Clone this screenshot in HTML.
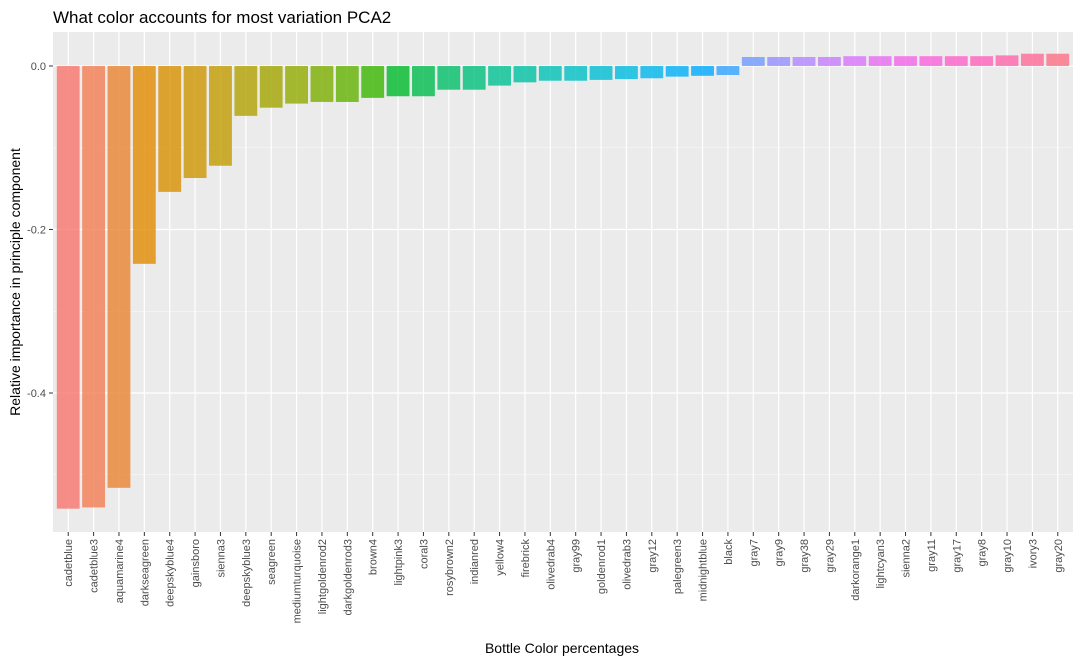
<!DOCTYPE html>
<html><head><meta charset="utf-8"><style>
body{margin:0;background:#fff;font-family:"Liberation Sans",Arial,sans-serif;}
svg text{font-family:"Liberation Sans",Arial,sans-serif;}
</style></head><body>
<svg id="chart" width="1081" height="663" xmlns="http://www.w3.org/2000/svg">
<text x="53" y="23" font-size="17" fill="#000">What color accounts for most variation PCA2</text>
<text x="562" y="653" font-size="14" fill="#000" text-anchor="middle">Bottle Color percentages</text>
<text transform="translate(20,282) rotate(-90)" font-size="14" fill="#000" text-anchor="middle">Relative importance in principle component</text>
<g id="plot"></g>
</svg>
<script>
const categories=["cadetblue","cadetblue3","aquamarine4","darkseagreen","deepskyblue4","gainsboro","sienna3","deepskyblue3","seagreen","mediumturquoise","lightgoldenrod2","darkgoldenrod3","brown4","lightpink3","coral3","rosybrown2","indianred","yellow4","firebrick","olivedrab4","gray99","goldenrod1","olivedrab3","gray12","palegreen3","midnightblue","black","gray7","gray9","gray38","gray29","darkorange1","lightcyan3","sienna2","gray11","gray17","gray8","gray10","ivory3","gray20"];
const values=[-0.5415,-0.540,-0.516,-0.242,-0.154,-0.137,-0.122,-0.061,-0.051,-0.046,-0.044,-0.044,-0.039,-0.037,-0.037,-0.029,-0.029,-0.024,-0.020,-0.018,-0.018,-0.017,-0.016,-0.015,-0.013,-0.012,-0.011,0.011,0.011,0.011,0.011,0.012,0.012,0.012,0.012,0.012,0.012,0.013,0.015,0.015];
const yTicks=[0,-0.2,-0.4];
const yTickLabels=["0.0","-0.2","-0.4"];
const yMinor=[-0.1,-0.3,-0.5];

const NS="http://www.w3.org/2000/svg";
const P={l:53,r:1073,t:32,b:532};
const n=categories.length;
const step=(P.r-P.l)/(n-1+1.2);
const x=i=>P.l+step*(0.6+i);
const y=v=>66-v*817.5;
function hcl(h,c,l){
  const hr=h*Math.PI/180,U=c*Math.cos(hr),V=c*Math.sin(hr);
  const un=0.19783,vn=0.46832;
  const Y=l>8?Math.pow((l+16)/116,3):l/903.3;
  const up=U/(13*l)+un,vp=V/(13*l)+vn;
  const X=Y*9*up/(4*vp),Z=Y*(12-3*up-20*vp)/(4*vp);
  let rgb=[3.2406*X-1.5372*Y-0.4986*Z,-0.9689*X+1.8758*Y+0.0415*Z,0.0557*X-0.2040*Y+1.0570*Z];
  rgb=rgb.map(v=>{v=v<=0.0031308?12.92*v:1.055*Math.pow(v,1/2.4)-0.055;return Math.round(Math.max(0,Math.min(1,v))*255);});
  return `rgb(${rgb.join(',')})`;
}
function mk(tag,attrs,parent){const e=document.createElementNS(NS,tag);for(const k in attrs)e.setAttribute(k,attrs[k]);parent.appendChild(e);return e;}
const g=document.getElementById('plot');
const bg=mk('rect',{x:P.l,y:P.t,width:P.r-P.l,height:P.b-P.t,fill:'#EBEBEB'},g);


yMinor.forEach(v=>{const l=mk('line',{x1:P.l,x2:P.r,y1:y(v),y2:y(v),stroke:'#fff','stroke-width':0.6,opacity:0.8},g);

});
yTicks.forEach((v,i)=>{const l=mk('line',{x1:P.l,x2:P.r,y1:y(v),y2:y(v),stroke:'#fff','stroke-width':1.2},g);


const tk=mk('line',{x1:P.l-4,x2:P.l,y1:y(v),y2:y(v),stroke:'#333','stroke-width':1},g);


const t=mk('text',{x:P.l-7,y:y(v)+4,'font-size':11,fill:'#4D4D4D','text-anchor':'end'},g);t.textContent=yTickLabels[i];

});
categories.forEach((c,i)=>{const l=mk('line',{x1:x(i),x2:x(i),y1:P.t,y2:P.b,stroke:'#fff','stroke-width':1.2},g);

});
const bw=step*0.9;
categories.forEach((c,i)=>{
  const v=values[i];const y0=y(0),y1=y(v);
  const r=mk('rect',{x:x(i)-bw/2,y:Math.min(y0,y1),width:bw,height:Math.abs(y1-y0),fill:hcl(15+360*i/n,100,65),'fill-opacity':0.8},g);
  
  
  const tk=mk('line',{x1:x(i),x2:x(i),y1:P.b,y2:P.b+4,stroke:'#333','stroke-width':1},g);
  
  
  const t=mk('text',{transform:`translate(${x(i)+4},${P.b+7}) rotate(-90)`,'font-size':11,fill:'#4D4D4D','text-anchor':'end'},g);
  t.textContent=c;
  
  
});
</script>
</body></html>
